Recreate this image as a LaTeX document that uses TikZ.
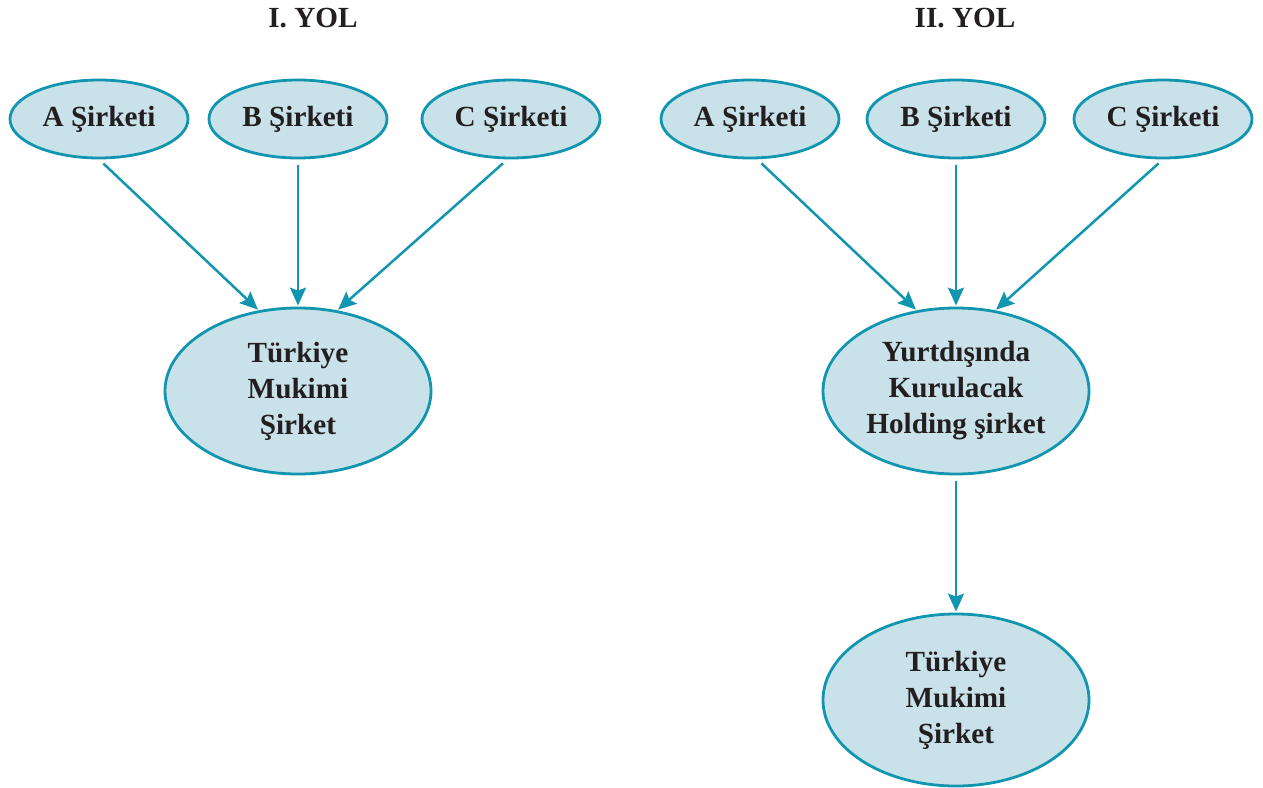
\documentclass[tikz,border=0pt]{standalone}
\usepackage{fontspec}
\setmainfont{Liberation Serif}
\usepackage{tikz}
\usetikzlibrary{arrows.meta,shapes.geometric}
\definecolor{yolmavi}{RGB}{18,150,176}
\definecolor{yolzemin}{RGB}{201,226,233}
\definecolor{yolyazi}{RGB}{35,31,32}
\tikzset{
  sirket/.style={ellipse, draw=yolmavi, fill=yolzemin, line width=1.4pt, inner sep=0pt,
    minimum width=89pt, minimum height=39pt, font=\fontsize{14.6}{18}\selectfont\bfseries, text=yolyazi},
  merkez/.style={sirket, minimum width=133pt, minimum height=83pt, align=center},
  ok/.style={draw=yolmavi, line width=1.25pt, -{Stealth[length=9pt,width=8pt,inset=1.5pt]}, shorten <=3pt, shorten >=0.5pt},
  baslik/.style={font=\fontsize{14.6}{18}\selectfont\bfseries, text=yolyazi}
}
\begin{document}
\begin{tikzpicture}[x=0.5pt,y=-0.5pt]
            \useasboundingbox (0,0) rectangle (1263,787);
            % I. YOL
            \node[baslik] (yol1) at (313,18) {I. YOL};
            \node[sirket] (a1) at (99,119) {A Şirketi};
            \node[sirket] (b1) at (298,119) {B Şirketi};
            \node[sirket] (c1) at (511,119) {C Şirketi};
            \node[merkez] (tr1) at (298,391) {Türkiye\\Mukimi\\Şirket};
            \draw[ok] (a1.south) -- (tr1.116);
            \draw[ok] (b1.south) -- (tr1.north);
            \draw[ok] (c1.-95) -- (tr1.64);
            % II. YOL
            \node[baslik] (yol2) at (965,18) {II. YOL};
            \node[sirket] (a2) at (750,119) {A Şirketi};
            \node[sirket] (b2) at (956,119) {B Şirketi};
            \node[sirket] (c2) at (1163,119) {C Şirketi};
            \node[merkez] (hol) at (956,391) {Yurtdışında\\Kurulacak\\Holding şirket};
            \node[merkez, minimum height=86pt] (tr2) at (956,700) {Türkiye\\Mukimi\\Şirket};
            \draw[ok] (a2.-80) -- (hol.116);
            \draw[ok] (b2.south) -- (hol.north);
            \draw[ok] (c2.south) -- (hol.64);
            \draw[ok] (hol.south) -- (tr2.north);
        \end{tikzpicture}
\end{document}
